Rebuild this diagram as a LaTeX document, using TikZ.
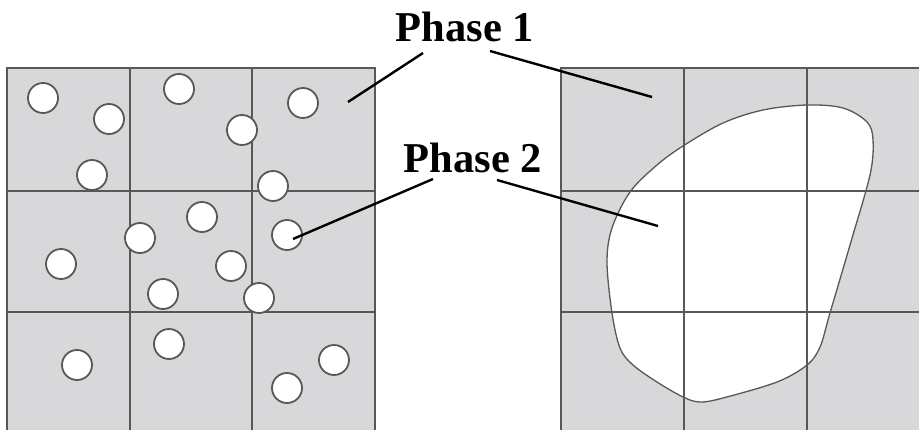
\documentclass[tikz,border=0pt]{standalone}
\usepackage{fontspec}
\setmainfont{Liberation Serif}
\begin{document}
\begin{tikzpicture}[x=1pt,y=-1pt,
  cell/.style={fill=cellgrey},
  gridline/.style={draw=gridgrey,line width=1.4pt},
  grain/.style={draw=gridgrey,line width=1.8pt,fill=white},
  leader/.style={draw=black,line width=2.4pt},
  phaselabel/.style={font=\bfseries\fontsize{42.5}{44}\selectfont,anchor=base,inner sep=0pt}]
\definecolor{cellgrey}{RGB}{216,216,218}
\definecolor{gridgrey}{RGB}{92,86,86}
\useasboundingbox (0,0) rectangle (919,434);

% ---- left panel: many small inclusions ----
\fill[cell] (7,68) rectangle (375,430);
\draw[gridline] (7,430) -- (7,68) -- (375,68) -- (375,430);
\draw[gridline] (130,68) -- (130,430) (252,68) -- (252,430);
\draw[gridline] (7,191) -- (375,191) (7,312) -- (375,312);
\foreach \i/\cx/\cy in {a/43/98, b/109/119, c/179/89, d/242/130, e/303/103,
  f/92/175, g/273/186, h/202/217, i/140/238, j/287/235, k/61/264,
  l/231/266, m/163/294, n/259/298, o/169/344, p/77/365, q/334/360, r/287/388}
  \node[grain,circle,minimum size=30pt,inner sep=0pt] (g\i) at (\cx,\cy) {};

% ---- right panel: one large inclusion ----
\fill[cell] (561,68) rectangle (919,430);
\draw[gridline] (561,430) -- (561,68) -- (919,68);
\draw[gridline] (684,68) -- (684,430) (807,68) -- (807,430);
\draw[gridline] (561,191) -- (919,191) (561,312) -- (919,312);
\begin{scope}
\clip plot[smooth cycle,tension=0.55] coordinates {
  (807,105) (843,108) (867,122) (873,140) (870,175) (850,245) (830,313)
  (820,347) (807,365) (777,382) (723,398) (700,402) (683,397) (657,382)
  (633,365) (620,348) (612,313) (607,262) (612,228) (630,192) (657,165)
  (683,146) (723,123) (763,110)};
\fill[white] (561,68) rectangle (919,430);
\draw[gridline] (684,68) -- (684,430) (807,68) -- (807,430);
\draw[gridline] (561,191) -- (919,191) (561,312) -- (919,312);
\end{scope}
\draw[draw=gridgrey,line width=1.3pt] plot[smooth cycle,tension=0.55] coordinates {
  (807,105) (843,108) (867,122) (873,140) (870,175) (850,245) (830,313)
  (820,347) (807,365) (777,382) (723,398) (700,402) (683,397) (657,382)
  (633,365) (620,348) (612,313) (607,262) (612,228) (630,192) (657,165)
  (683,146) (723,123) (763,110)};

% ---- labels and leaders ----
\node[phaselabel] (p1) at (465,41) {Phase 1};
\node[phaselabel] (p2) at (473,172) {Phase 2};
\coordinate (p1l) at (423,53);
\coordinate (p1r) at (490,51);
\coordinate (p2l) at (433,179);
\coordinate (p2r) at (497,180);
\coordinate (m1) at (348,102);
\coordinate (m2) at (652,97);
\coordinate (s1) at (293,239);
\coordinate (s2) at (658,226);
\draw[leader] (p1l) -- (m1);
\draw[leader] (p1r) -- (m2);
\draw[leader] (p2l) -- (s1);
\draw[leader] (p2r) -- (s2);
\end{tikzpicture}
\end{document}
